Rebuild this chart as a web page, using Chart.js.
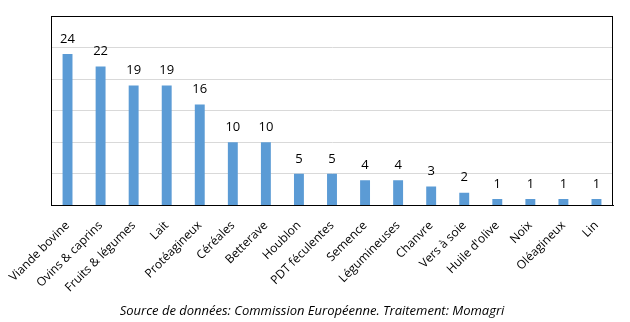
<!DOCTYPE html>
<html><head><meta charset="utf-8">
<script src="https://cdn.jsdelivr.net/npm/chart.js@4/dist/chart.umd.min.js"></script>
<style>html,body{margin:0;padding:0;background:#fff}#w{width:630px;height:322px}</style>
</head><body><div id="w"><canvas id="c" width="630" height="322"></canvas></div>
<script>
const categories = ["Viande bovine","Ovins & caprins","Fruits & légumes","Lait","Protéagineux","Céréales","Betterave","Houblon","PDT féculentes","Semence","Légumineuses","Chanvre","Vers à soie","Huile d'olive","Noix","Oléagineux","Lin"];
const values = [24,22,19,19,16,10,10,5,5,4,4,3,2,1,1,1,1];
const yTicks = [0,5,10,15,20,25,30];
const caption = "Source de données: Commission Européenne. Traitement: Momagri";

const FONT = "'Open Sans', sans-serif";

const framePlugin = {
  id: 'frame',
  afterDatasetsDraw(chart) {
    const {ctx, chartArea: a} = chart;
    ctx.save();
    ctx.strokeStyle = '#000';
    ctx.lineWidth = 1;
    ctx.strokeRect(Math.round(a.left)+0.5, Math.round(a.top)+0.5, Math.round(a.right-a.left)-1, Math.round(a.bottom-a.top));
    ctx.restore();
    const meta = chart.getDatasetMeta(0);
    ctx.save();
    ctx.fillStyle = '#000';
    ctx.font = '13px ' + FONT;
    ctx.textAlign = 'center';
    ctx.textBaseline = 'middle';
    meta.data.forEach((el, i) => {
      ctx.fillText(String(values[i]), el.x, el.y - 15);
    });
    ctx.restore();
  }
};

new Chart(document.getElementById('c'), {
  type: 'bar',
  data: {
    labels: categories,
    datasets: [{
      data: values,
      backgroundColor: '#5B9BD5',
      borderWidth: 0,
      barPercentage: 0.6,
      categoryPercentage: 0.5
    }]
  },
  options: {
    responsive: false,
    animation: false,
    devicePixelRatio: 1,
    layout: { padding: { left: 11, right: 17, top: 16, bottom: 0 } },
    plugins: {
      legend: { display: false },
      tooltip: { enabled: false },
      title: {
        display: true,
        position: 'bottom',
        text: caption,
        color: '#000',
        font: { family: FONT, size: 13, style: 'italic', weight: 'normal' },
        padding: { top: 0, bottom: 3 }
      }
    },
    scales: {
      x: {
        grid: { display: false, drawTicks: false },
        border: { display: true, color: '#000', width: 1 },
        ticks: {
          color: '#000',
          font: { family: FONT, size: 12 },
          maxRotation: 45, minRotation: 45,
          autoSkip: false,
          padding: 13
        },
        afterFit(s) { s.height = 98; s.paddingLeft = 0; s.paddingRight = 0; }
      },
      y: {
        min: 0, max: 30,
        afterBuildTicks(s) { s.ticks = yTicks.map(v => ({value: v})); },
        ticks: { display: false },
        grid: { color: '#D9D9D9', drawTicks: false, lineWidth: 1 },
        border: { display: true, color: '#000', width: 1 },
        afterFit(s) { s.width = 40; }
      }
    }
  },
  plugins: [framePlugin]
});
</script></body></html>
